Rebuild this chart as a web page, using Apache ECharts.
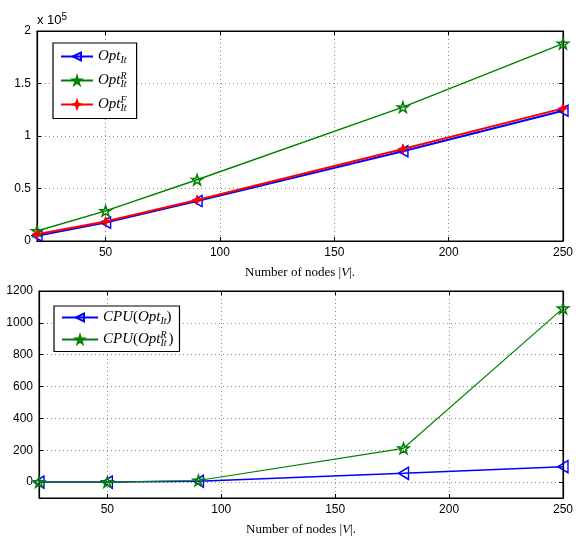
<!DOCTYPE html>
<html>
<head>
<meta charset="utf-8">
<script src="https://cdn.jsdelivr.net/npm/echarts@6/dist/echarts.min.js"></script>
<style>html,body{margin:0;padding:0;background:#fff}#c{width:576px;height:537px}</style>
</head>
<body>
<div id="c"></div>
<script>
// ---- data ----
const nodes = [20, 50, 90, 180, 250];
const optIt  = [5000, 17500, 38000, 85500, 124000];
const optItR = [9600, 28700, 58400, 127500, 188000];
const optItF = [6400, 18500, 39000, 87700, 126300];
const cpuOptIt  = [0, 0, 5, 55, 97];
const cpuOptItR = [0, 0, 10, 212, 1091];
const xTicks = [50, 100, 150, 200, 250];
const yTopTicks = [0, 50000, 100000, 150000, 200000];
const yBotTicks = [0, 200, 400, 600, 800, 1000, 1200];

const TRI = 'path://M0,5 L10,0 L10,10 Z';
const STAR = 'path://M10,0 L12.25,6.91 L19.51,6.91 L13.63,11.18 L15.88,18.09 L10,13.82 L4.12,18.09 L6.37,11.18 L0.49,6.91 L7.75,6.91 Z';
const PLUS = 'path://M5,0 L6.3,3.7 L10,5 L6.3,6.3 L5,10 L3.7,6.3 L0,5 L3.7,3.7 Z';

const tickFont = {fontFamily: 'Liberation Sans', fontSize: 12, color: '#000'};
const gridLine = {show: true, lineStyle: {color: '#888', type: [1, 3], width: 1}};
const rich = {
  i: {fontFamily: 'Liberation Serif', fontStyle: 'italic', fontSize: 15, color: '#000'},
  r: {fontFamily: 'Liberation Serif', fontSize: 15, color: '#000'},
  sub: {fontFamily: 'Liberation Serif', fontStyle: 'italic', fontSize: 10, color: '#000', verticalAlign: 'bottom', padding: [8, 0, 0, 0], width: 0, align: 'left'},
  subw: {fontFamily: 'Liberation Serif', fontStyle: 'italic', fontSize: 10, color: '#000', verticalAlign: 'bottom', padding: [8, 0, 0, 0]},
  sup: {fontFamily: 'Liberation Serif', fontStyle: 'italic', fontSize: 10, color: '#000', verticalAlign: 'top', padding: [0, 0, 8, 0], width: 8, align: 'left'}
};
const names = {
  a: 'Opt_It', b: 'Opt_It^R', c: 'Opt_It^F', d: 'CPU(Opt_It)', e: 'CPU(Opt_It^R)'
};
function fmt(n) {
  switch (n) {
    case names.a: return '{i|Opt}{subw|It}';
    case names.b: return '{i|Opt}{sub|It}{sup|R}';
    case names.c: return '{i|Opt}{sub|It}{sup|F}';
    case names.d: return '{i|CPU}{r|(}{i|Opt}{subw|It}{r|)}';
    case names.e: return '{i|CPU}{r|(}{i|Opt}{sub|It}{sup|R}{r|)}';
  }
  return n;
}

function xAxisDef(gi) {
  return [{
    type: 'value', gridIndex: gi, min: 20, max: 250,
    axisLine: {show: true, onZero: false, lineStyle: {color: '#000', width: 1.2}},
    axisTick: {show: true, inside: true, length: 4, customValues: xTicks, lineStyle: {color: '#000'}},
    axisLabel: {show: true, customValues: xTicks, margin: 6, ...tickFont},
    splitLine: gridLine,
    name: '{r|Number of nodes }{r||}{i|V}{r||.}', nameLocation: 'middle', nameGap: 25,
    nameTextStyle: {rich: {r: {fontFamily: 'Liberation Serif', fontSize: 13, color: '#000'}, i: {fontFamily: 'Liberation Serif', fontStyle: 'italic', fontSize: 13, color: '#000'}}}
  }, {
    type: 'value', gridIndex: gi, min: 20, max: 250, position: 'top',
    axisLine: {show: true, onZero: false, lineStyle: {color: '#000', width: 1.2}},
    axisTick: {show: true, inside: true, length: 4, customValues: xTicks, lineStyle: {color: '#000'}},
    axisLabel: {show: false}, splitLine: {show: false}
  }];
}

const option = {
  animation: false,
  backgroundColor: '#fff',
  grid: [
    {left: 37, right: 13, top: 31, height: 210, show: true, borderColor: '#000', borderWidth: 1},
    {left: 39, right: 10, top: 291, height: 210, show: true, borderColor: '#000', borderWidth: 1}
  ],
  legend: [
    {
      data: [names.a, names.b, names.c], left: 53, top: 43, orient: 'vertical',
      itemWidth: 32, itemHeight: 10, itemGap: 6, padding: [6, 10, 5, 7],
      backgroundColor: '#fff', borderColor: '#000', borderWidth: 1.2, borderRadius: 0,
      formatter: fmt, textStyle: {rich: rich}
    },
    {
      data: [names.d, names.e], left: 54, top: 306, orient: 'vertical',
      itemWidth: 36, itemHeight: 10, itemGap: 4, padding: [4, 6, 3, 7],
      backgroundColor: '#fff', borderColor: '#000', borderWidth: 1.2, borderRadius: 0,
      formatter: fmt, textStyle: {rich: rich}
    }
  ],
  xAxis: [...xAxisDef(0), ...xAxisDef(1)],
  yAxis: [
    {
      type: 'value', gridIndex: 0, min: 0, max: 200000, interval: 50000,
      axisLine: {show: true, lineStyle: {color: '#000', width: 1.2}},
      axisTick: {show: true, inside: true, length: 4, lineStyle: {color: '#000'}},
      axisLabel: {formatter: v => String(v / 100000), margin: 6, ...tickFont},
      splitLine: gridLine,
      name: 'x 10{s|5}', nameLocation: 'end', nameGap: 3,
      nameTextStyle: {align: 'left', fontFamily: 'Liberation Sans', fontSize: 13, color: '#000',
        rich: {s: {fontFamily: 'Liberation Sans', fontSize: 10, color: '#000', verticalAlign: 'top', padding: [0, 0, 6, 0]}}}
    },
    {
      type: 'value', gridIndex: 0, min: 0, max: 200000, interval: 50000, position: 'right',
      axisLine: {show: true, lineStyle: {color: '#000', width: 1.2}},
      axisTick: {show: true, inside: true, length: 4, lineStyle: {color: '#000'}},
      axisLabel: {show: false}, splitLine: {show: false}
    },
    {
      type: 'value', gridIndex: 1, min: -100, max: 1200,
      axisLine: {show: true, lineStyle: {color: '#000', width: 1.2}},
      axisTick: {show: true, inside: true, length: 4, customValues: yBotTicks, lineStyle: {color: '#000'}},
      axisLabel: {customValues: yBotTicks, formatter: v => String(v), margin: 6, ...tickFont},
      splitLine: gridLine
    },
    {
      type: 'value', gridIndex: 1, min: -100, max: 1200, position: 'right',
      axisLine: {show: true, lineStyle: {color: '#000', width: 1.2}},
      axisTick: {show: true, inside: true, length: 4, customValues: yBotTicks, lineStyle: {color: '#000'}},
      axisLabel: {show: false}, splitLine: {show: false}
    }
  ],
  series: [
    {
      name: names.a, type: 'line', xAxisIndex: 0, yAxisIndex: 0,
      data: nodes.map((x, i) => [x, optIt[i]]),
      symbol: TRI, symbolSize: [10, 11], symbolKeepAspect: false,
      lineStyle: {color: '#0000ff', width: 2},
      itemStyle: {color: 'rgba(255,255,255,0)', borderColor: '#0000ff', borderWidth: 1.5}, z: 3
    },
    {
      name: names.b, type: 'line', xAxisIndex: 0, yAxisIndex: 0,
      data: nodes.map((x, i) => [x, optItR[i]]),
      symbol: STAR, symbolSize: 11, symbolKeepAspect: true,
      lineStyle: {color: '#008000', width: 1.5},
      itemStyle: {color: 'rgba(255,255,255,0)', borderColor: '#008000', borderWidth: 1.5}, z: 4
    },
    {
      name: names.c, type: 'line', xAxisIndex: 0, yAxisIndex: 0,
      data: nodes.map((x, i) => [x, optItF[i]]),
      symbol: PLUS, symbolSize: 10, symbolKeepAspect: true,
      lineStyle: {color: '#ff0000', width: 2},
      itemStyle: {color: '#ff0000', borderColor: '#ff0000', borderWidth: 1}, z: 5
    },
    {
      name: names.d, type: 'line', xAxisIndex: 2, yAxisIndex: 2,
      data: nodes.map((x, i) => [x, cpuOptIt[i]]),
      symbol: TRI, symbolSize: [10, 12], symbolKeepAspect: false,
      lineStyle: {color: '#0000ff', width: 1.5},
      itemStyle: {color: 'rgba(255,255,255,0)', borderColor: '#0000ff', borderWidth: 1.5}, z: 3
    },
    {
      name: names.e, type: 'line', xAxisIndex: 2, yAxisIndex: 2,
      data: nodes.map((x, i) => [x, cpuOptItR[i]]),
      symbol: STAR, symbolSize: 11, symbolKeepAspect: true,
      lineStyle: {color: '#008000', width: 1.2},
      itemStyle: {color: 'rgba(255,255,255,0)', borderColor: '#008000', borderWidth: 1.5}, z: 4
    }
  ]
};
const chart = echarts.init(document.getElementById('c'), null, {renderer: 'canvas'});
chart.setOption(option);
</script>
</body>
</html>
